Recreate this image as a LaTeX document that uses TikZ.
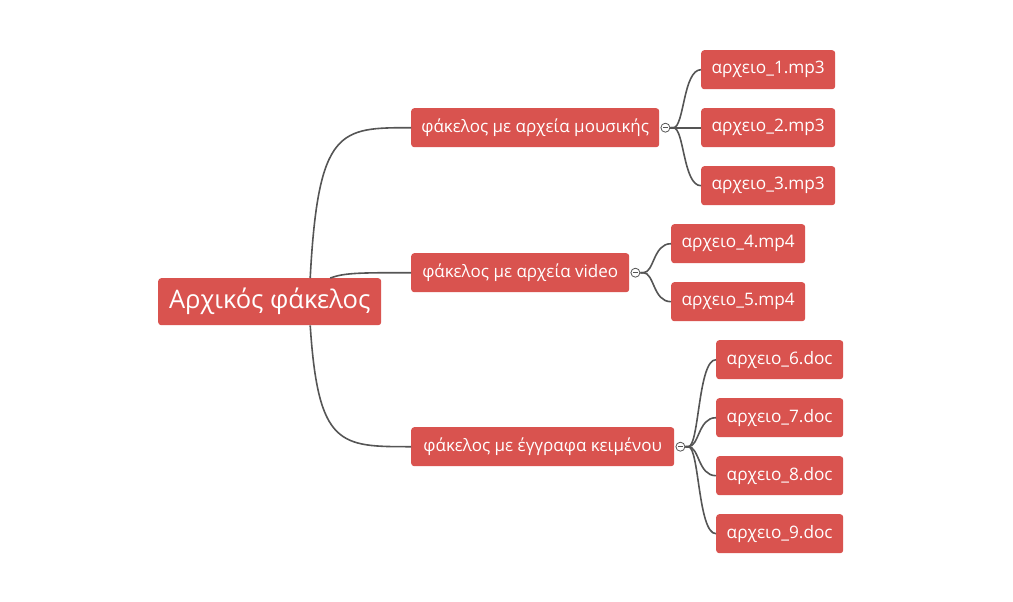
\documentclass[tikz,border=0pt]{standalone}
\usepackage{fontspec}
\setmainfont{Open Sans}
\definecolor{boxred}{HTML}{D9534F}
\definecolor{linegray}{HTML}{555555}
\begin{document}
\begin{tikzpicture}[x=1pt,y=-1pt,
  box/.style={fill=boxred,rounded corners=3pt,text=white,inner sep=0pt,anchor=north west,align=center},
  rootbox/.style={box,font=\fontsize{25.5}{28}\selectfont},
  midbox/.style={box,font=\fontsize{17}{20}\selectfont},
  leafbox/.style={box,font=\fontsize{17.2}{20}\selectfont},
  conn/.style={draw=linegray,line width=1.6pt},
  toggle/.style={circle,draw=linegray,fill=white,line width=0.8pt,minimum size=9pt,inner sep=0pt}
]
\useasboundingbox (0,0) rectangle (1013,602);
% root
\node[rootbox,minimum width=223pt,minimum height=47pt] (root) at (158,278) {Αρχικός φάκελος};
% branches
\node[midbox,minimum width=248pt,minimum height=39pt] (b1) at (411,108) {φάκελος με αρχεία μουσικής};
\node[midbox,minimum width=218pt,minimum height=39pt] (b2) at (411,253) {φάκελος με αρχεία video};
\node[midbox,minimum width=263pt,minimum height=39pt] (b3) at (411,427) {φάκελος με έγγραφα κειμένου};
% leaves
\node[leafbox,minimum width=134pt,minimum height=39pt] (l1) at (701,50) {αρχειο\_1.mp3};
\node[leafbox,minimum width=134pt,minimum height=39pt] (l2) at (701,108) {αρχειο\_2.mp3};
\node[leafbox,minimum width=134pt,minimum height=39pt] (l3) at (701,166) {αρχειο\_3.mp3};
\node[leafbox,minimum width=134pt,minimum height=39pt] (l4) at (671,224) {αρχειο\_4.mp4};
\node[leafbox,minimum width=134pt,minimum height=39pt] (l5) at (671,282) {αρχειο\_5.mp4};
\node[leafbox,minimum width=127pt,minimum height=39pt] (l6) at (716,340) {αρχειο\_6.doc};
\node[leafbox,minimum width=127pt,minimum height=39pt] (l7) at (716,398) {αρχειο\_7.doc};
\node[leafbox,minimum width=127pt,minimum height=39pt] (l8) at (716,456) {αρχειο\_8.doc};
\node[leafbox,minimum width=127pt,minimum height=39pt] (l9) at (716,514) {αρχειο\_9.doc};
% root connectors
\coordinate (rt) at ([xshift=40.5pt]root.north);
\coordinate (rm) at ([xshift=60.5pt]root.north);
\coordinate (rb) at ([xshift=40.5pt]root.south);
\draw[conn] (rt) .. controls ([xshift=8pt]rt |- b1.west) and ([xshift=-71pt]b1.west) .. (b1.west);
\draw[conn] (rm) .. controls ([xshift=-66pt]b2.west) and ([xshift=-51pt]b2.west) .. (b2.west);
\draw[conn] (rb) .. controls ([xshift=8pt]rb |- b3.west) and ([xshift=-71pt]b3.west) .. (b3.west);
% toggles
\node[toggle,xshift=6pt] (t1) at (b1.east) {};
\node[toggle,xshift=6pt] (t2) at (b2.east) {};
\node[toggle,xshift=6pt] (t3) at (b3.east) {};
\foreach \t in {t1,t2,t3}{\draw[linegray,line width=0.9pt] ([xshift=-2.5pt]\t.center) -- ([xshift=2.5pt]\t.center);}
% leaf connectors
\foreach \t/\l in {t1/l1,t1/l2,t1/l3,t2/l4,t2/l5,t3/l6,t3/l7,t3/l8,t3/l9}{
  \draw[conn] (\t.east) -- ([xshift=3pt]\t.east) .. controls ([xshift=14pt]\t.east) and ([xshift=-18pt]\l.west) .. (\l.west);
}
\end{tikzpicture}
\end{document}
